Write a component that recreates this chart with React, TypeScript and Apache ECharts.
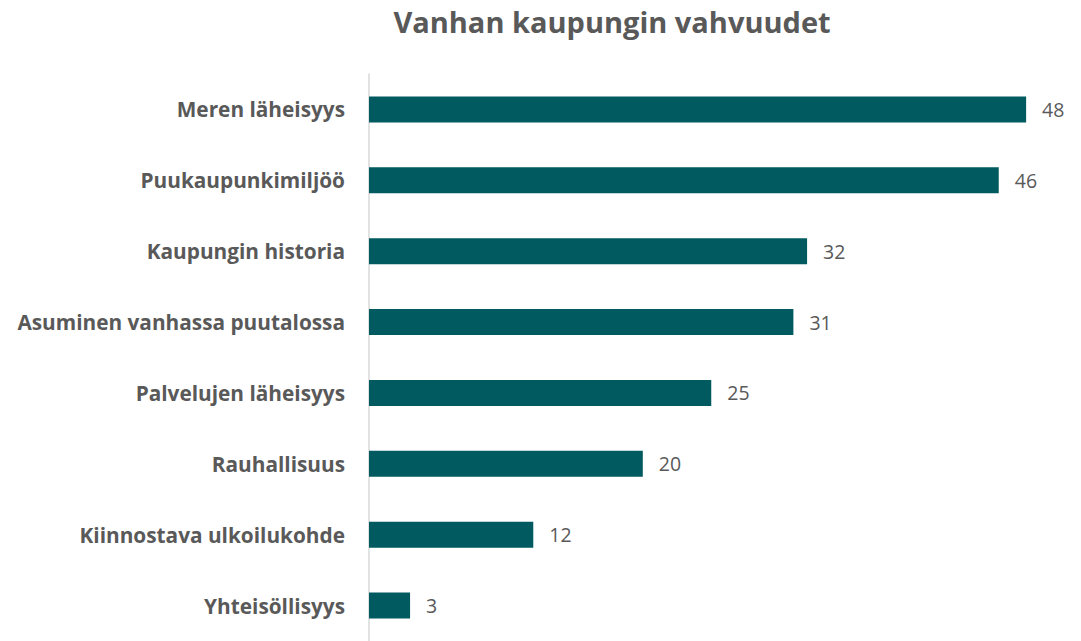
import React, { useEffect, useRef } from "react";
import * as echarts from "echarts";

const categories = [
  "Meren läheisyys",
  "Puukaupunkimiljöö",
  "Kaupungin historia",
  "Asuminen vanhassa puutalossa",
  "Palvelujen läheisyys",
  "Rauhallisuus",
  "Kiinnostava ulkoilukohde",
  "Yhteisöllisyys",
];
const values = [48, 46, 32, 31, 25, 20, 12, 3];
const titleText = "Vanhan kaupungin vahvuudet";

export default function App() {
  const ref = useRef<HTMLDivElement>(null);
  useEffect(() => {
    if (!ref.current) return;
    const chart = echarts.init(ref.current, undefined, { renderer: "svg" });
    chart.setOption({
      animation: false,
      backgroundColor: "#ffffff",
      title: {
        text: titleText,
        left: 607,
        top: 2,
        textAlign: "center",
        textStyle: {
          fontFamily: "Open Sans",
          fontWeight: "bold",
          fontSize: 29,
          color: "#595959",
        },
      },
      grid: { left: 369, right: 27.5, top: 74, bottom: -4, containLabel: false },
      xAxis: {
        type: "value",
        min: 0,
        max: 50,
        show: false,
      },
      yAxis: {
        type: "category",
        inverse: true,
        data: categories,
        axisLine: { show: true, lineStyle: { color: "#D9D9D9", width: 1.5 } },
        axisTick: { show: false },
        axisLabel: {
          margin: 24,
          fontFamily: "Open Sans",
          fontWeight: "bold",
          fontSize: 20.8,
          color: "#595959",
        },
      },
      series: [
        {
          type: "bar",
          data: values,
          barWidth: 26,
          itemStyle: { color: "#005A5F" },
          label: {
            show: true,
            position: "right",
            distance: 16,
            fontFamily: "Open Sans",
            fontSize: 19.5,
            color: "#595959",
          },
        },
      ],
    });
    return () => chart.dispose();
  }, []);
  return (
    <div
      ref={ref}
      style={{ position: "fixed", left: 0, top: 0, width: 1081, height: 641 }}
    />
  );
}
